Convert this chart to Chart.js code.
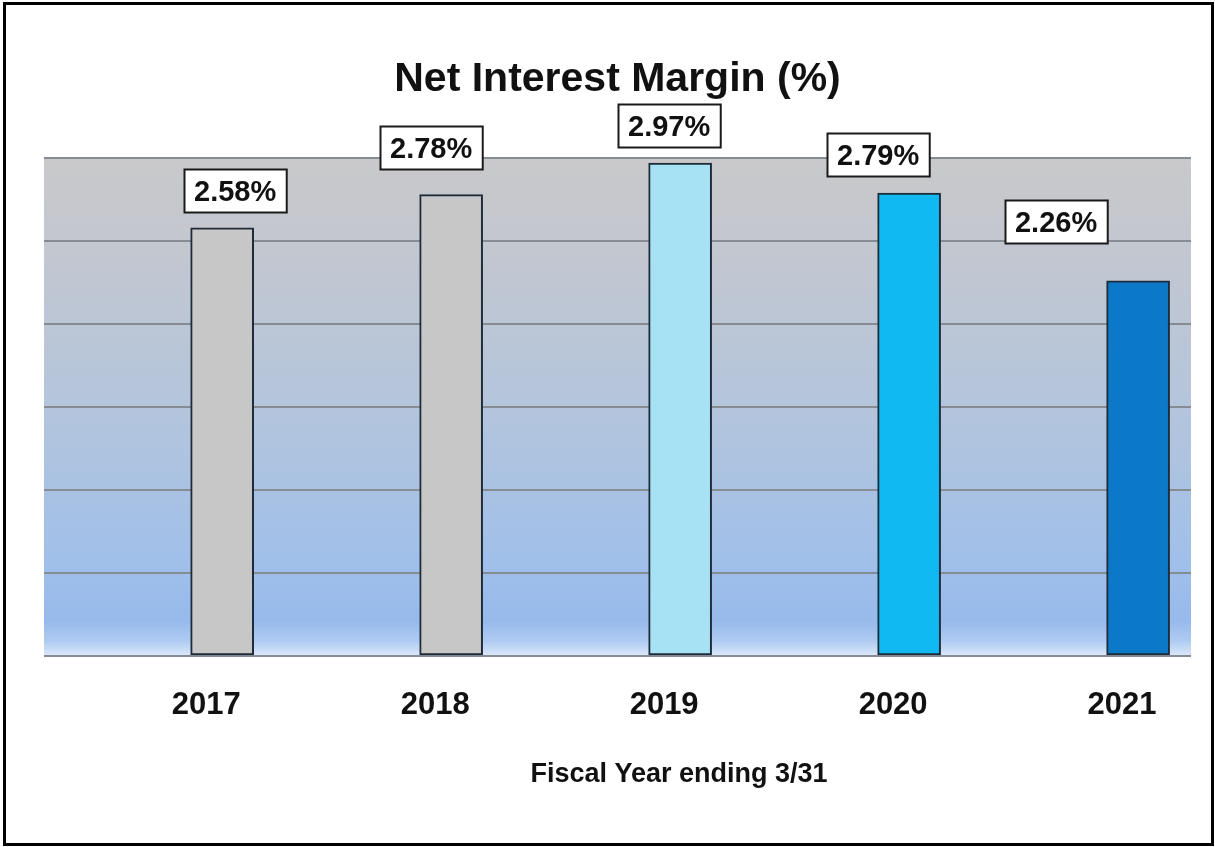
<!DOCTYPE html>
<html>
<head>
<meta charset="utf-8">
<script src="https://cdn.jsdelivr.net/npm/chart.js@4/dist/chart.umd.min.js"></script>
<style>
  html, body { margin: 0; padding: 0; background: #fff; overflow: hidden; }
  #wrap { position: relative; width: 1215px; height: 847px; }
  #frame {
    position: absolute; left: 3px; top: 2px; width: 1211px; height: 844px;
    border: 3px solid #000; box-sizing: border-box; pointer-events: none;
  }
  canvas { position: absolute; left: 0; top: 0; }
</style>
</head>
<body>
<div id="wrap">
  <canvas id="nim" width="1215" height="847"></canvas>
  <div id="frame"></div>
</div>
<script>
// Fiscal years (ending 3/31) and net interest margin, in percent
const categories = ['2017', '2018', '2019', '2020', '2021'];
const marginPct = [2.58, 2.78, 2.97, 2.79, 2.26];
const barColors = ['#c7c7c7', '#c7c7c7', '#a7e2f4', '#10b9f1', '#0b78c8'];

// Value tags sit above each bar; small nudges keep them clear of neighbours
const tagShiftX = [13, -20, -11, -31, -82];
const tagGap = [16, 26, 16, 17, 38];

const FONT = "'Liberation Sans', Arial, sans-serif";

const plotBackground = {
  id: 'plotBackground',
  beforeDraw(chart) {
    const { ctx, chartArea: a } = chart;
    const g = ctx.createLinearGradient(0, a.top, 0, a.bottom);
    g.addColorStop(0, '#c9c9cb');
    g.addColorStop(0.17, '#c3c7cf');
    g.addColorStop(0.5, '#b4c5dc');
    g.addColorStop(0.83, '#9fbfea');
    g.addColorStop(0.93, '#97baec');
    g.addColorStop(0.97, '#aecbf1');
    g.addColorStop(1, '#dce8f9');
    ctx.save();
    ctx.fillStyle = g;
    ctx.fillRect(a.left, a.top, a.right - a.left, a.bottom - a.top);
    ctx.restore();
  }
};

const valueTags = {
  id: 'valueTags',
  afterDatasetsDraw(chart) {
    const { ctx } = chart;
    const meta = chart.getDatasetMeta(0);
    ctx.save();
    ctx.font = 'bold 29px ' + FONT;
    ctx.textAlign = 'center';
    ctx.textBaseline = 'middle';
    meta.data.forEach((bar, i) => {
      const text = marginPct[i].toFixed(2) + '%';
      const w = ctx.measureText(text).width + 20;
      const h = 43;
      const cx = bar.x + tagShiftX[i];
      const bottom = bar.y - tagGap[i];
      const left = Math.round(cx - w / 2) + 0.5;
      const top = Math.round(bottom - h) + 0.5;
      ctx.fillStyle = '#ffffff';
      ctx.fillRect(left, top, w, h);
      ctx.lineWidth = 2;
      ctx.strokeStyle = '#1a1a1a';
      ctx.strokeRect(left, top, w, h);
      ctx.fillStyle = '#111111';
      ctx.fillText(text, cx, top + h / 2 + 2);
    });
    ctx.restore();
  }
};

const axisCaption = {
  id: 'axisCaption',
  afterDraw(chart) {
    const { ctx } = chart;
    ctx.save();
    ctx.font = 'bold 27px ' + FONT;
    ctx.fillStyle = '#111111';
    ctx.textAlign = 'center';
    ctx.textBaseline = 'middle';
    ctx.fillText('Fiscal Year ending 3/31', 679, 775);
    ctx.restore();
  }
};

new Chart(document.getElementById('nim'), {
  type: 'bar',
  data: {
    datasets: [{
      data: categories.map((c, i) => ({ x: Number(c), y: marginPct[i] })),
      backgroundColor: barColors,
      borderColor: '#1e2b38',
      borderWidth: 2,
      borderSkipped: false,
      barThickness: 63
    }]
  },
  options: {
    responsive: false,
    animation: false,
    events: [],
    layout: { padding: { left: 44, right: 24, top: 55, bottom: 92 } },
    plugins: {
      legend: { display: false },
      tooltip: { enabled: false },
      title: {
        display: true,
        text: 'Net Interest Margin (%)',
        color: '#111111',
        font: { family: FONT, size: 41, weight: 'bold' },
        padding: { top: 0, bottom: 54 }
      }
    },
    scales: {
      x: {
        type: 'linear',
        offset: false,
        min: 2016.222,
        max: 2021.231,
        afterBuildTicks(scale) {
          scale.ticks = categories.map(c => ({ value: Number(c) }));
        },
        grid: { display: false, drawTicks: false },
        border: { display: false },
        ticks: {
          padding: 31,
          labelOffset: -16,
          color: '#111111',
          font: { family: FONT, size: 31, weight: 'bold' },
          callback: (v) => categories.find(c => Number(c) === v) || ''
        }
      },
      y: {
        min: 0,
        max: 3,
        ticks: { display: false, stepSize: 0.5 },
        border: { display: false },
        grid: { color: '#868c94', lineWidth: 2, drawTicks: false }
      }
    }
  },
  plugins: [plotBackground, valueTags, axisCaption]
});
</script>
</body>
</html>
